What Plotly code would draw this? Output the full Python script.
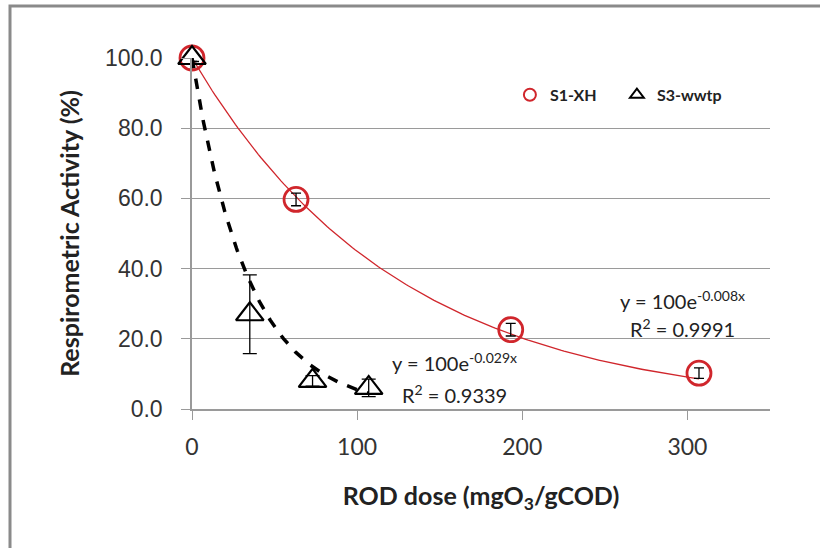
import numpy as np
import plotly.graph_objects as go

# ---- data ----
s1_x = [0, 63, 193, 307]
s1_y = [100.0, 59.7, 22.6, 10.2]
s1_err = [1.0, 1.8, 1.8, 1.5]

s3_x = [0, 35, 73, 107]
s3_y = [100.0, 27.0, 8.0, 6.0]
s3_err = [1.0, 11.2, 1.5, 2.5]

s1_k = -0.008   # trendline exponent S1
s3_k = -0.029   # trendline exponent S3
s1_r2 = "0.9991"
s3_r2 = "0.9339"

x_ticks = [0, 100, 200, 300]
y_ticks = [0, 20, 40, 60, 80, 100]

red = "#d0262c"
grid = "#9a9a9a"

fig = go.Figure()

# trendlines (from fitted equations)
t1 = np.linspace(0, max(s1_x), 200)
fig.add_trace(go.Scatter(x=t1, y=100 * np.exp(s1_k * t1), mode="lines",
                         line=dict(color=red, width=1.3), showlegend=False,
                         hoverinfo="skip", cliponaxis=False))
t3 = np.linspace(0, max(s3_x), 200)
fig.add_trace(go.Scatter(x=t3, y=100 * np.exp(s3_k * t3), mode="lines",
                         line=dict(color="black", width=3.5, dash="dash"),
                         showlegend=False, hoverinfo="skip", cliponaxis=False))

fig.add_trace(go.Scatter(
    x=s1_x, y=s1_y, mode="markers", name="S1-XH",
    marker=dict(symbol="circle-open", size=24, color=red, line=dict(width=2.8, color=red)),
    error_y=dict(type="data", array=s1_err, color="black", thickness=1.3, width=5),
    cliponaxis=False))
fig.add_trace(go.Scatter(
    x=s3_x, y=s3_y, mode="markers", name="S3-wwtp",
    marker=dict(symbol="triangle-up-open", size=24, color="black", line=dict(width=2.2, color="black")),
    error_y=dict(type="data", array=s3_err, color="black", thickness=1.3, width=7),
    cliponaxis=False))

ann_font = dict(family="Lato", size=20, color="#222")
fig.add_annotation(x=159, y=13.3, text=f"y = 100e<sup>{s3_k}x</sup>", showarrow=False, font=ann_font)
fig.add_annotation(x=159, y=4.2, text=f"R<sup>2</sup> = {s3_r2}", showarrow=False, font=ann_font)
fig.add_annotation(x=297, y=31.0, text=f"y = 100e<sup>{s1_k:.3f}x</sup>", showarrow=False, font=ann_font)
fig.add_annotation(x=297, y=23.2, text=f"R<sup>2</sup> = {s1_r2}", showarrow=False, font=ann_font)

# outer frame (right and bottom edges fall outside the picture)
fig.add_shape(type="rect", xref="paper", yref="paper",
              x0=(10 - 192) / 578, x1=(840 - 192) / 578,
              y0=(409 - 560) / 351, y1=(409 - 6) / 351,
              line=dict(color="#8a8a8a", width=3), layer="below")

fig.update_layout(
    width=820, height=548,
    margin=dict(l=192, r=50, t=58, b=139),
    paper_bgcolor="white", plot_bgcolor="white",
    legend=dict(orientation="h", x=0.55, y=0.895, xanchor="left", yanchor="middle",
                font=dict(family="Lato", size=16, color="#222", weight="bold"),
                itemsizing="constant", entrywidth=62, entrywidthmode="pixels",
                bgcolor="rgba(0,0,0,0)"),
    xaxis=dict(range=[0, 350], tickvals=x_ticks, ticks="outside", ticklen=9,
               tickcolor=grid, showline=True, linecolor=grid, linewidth=1.5,
               showgrid=False, zeroline=False, ticklabelstandoff=8,
               tickfont=dict(family="Lato", size=23, color="#333"),
               title=dict(text="<b>ROD dose (mgO<sub>3</sub>/gCOD)</b>",
                          font=dict(family="Lato", size=25, color="#222"), standoff=28)),
    yaxis=dict(range=[0, 100], tickvals=y_ticks, tickformat=".1f", ticks="outside",
               ticklen=9, tickcolor=grid, showline=True, linecolor=grid, linewidth=1.5,
               showgrid=True, gridcolor=grid, gridwidth=1, zeroline=False,
               ticklabelstandoff=14,
               tickfont=dict(family="Liberation Sans", size=23, color="#333"),
               title=dict(text="<b>Respirometric Activity (%)</b>",
                          font=dict(family="Lato", size=25, color="#222"), standoff=18)),
)

fig.write_html("out.html")
